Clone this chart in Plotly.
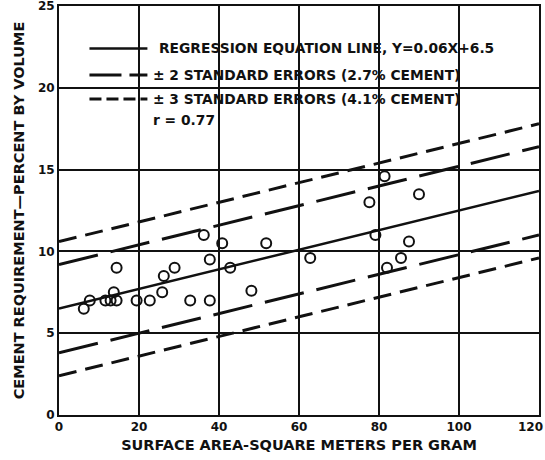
import plotly.graph_objects as go

# ---- data ----
surface_area = [6.2, 7.7, 11.6, 12.9, 14.4, 13.7, 14.4, 19.4, 22.7, 25.8, 26.2, 28.9, 32.8, 37.7,
                37.7, 36.2, 40.8, 42.8, 48.1, 51.8, 62.8, 79.1, 82.0, 85.5, 87.5, 77.6, 81.4, 90.0]
cement_req = [6.5, 7.0, 7.0, 7.0, 7.0, 7.5, 9.0, 7.0, 7.0, 7.5, 8.5, 9.0, 7.0, 7.0,
              9.5, 11.0, 10.5, 9.0, 7.6, 10.5, 9.6, 11.0, 9.0, 9.6, 10.6, 13.0, 14.6, 13.5]

line_x = [0, 120]
regression_y = [6.5, 13.7]
plus2_y = [9.2, 16.4]
minus2_y = [3.8, 11.0]
plus3_y = [10.6, 17.8]
minus3_y = [2.4, 9.6]

legend_labels = [
    "REGRESSION EQUATION LINE, Y=0.06X+6.5",
    "± 2 STANDARD ERRORS (2.7% CEMENT)",
    "± 3 STANDARD ERRORS (4.1% CEMENT)",
    "r = 0.77",
]
x_ticks = [0, 20, 40, 60, 80, 100, 120]
x_tick_labels = ["0", "20", "40", "60", "80", "100", "120"]
y_ticks = [0, 5, 10, 15, 20, 25]

# ---- layout geometry (pixels) ----
W, H = 545, 460
L, R, T, B = 58.5, 6, 5.5, 45
PW, PH = W - L - R, H - T - B


def px(xp):
    return (xp - L) / PW


def py(yp):
    return (H - B - yp) / PH


FONT = "DejaVu Sans"
BLACK = "#111111"

fig = go.Figure()

LONG = "40px,13px"
SHORT = "18px,9px"

fig.add_trace(go.Scatter(x=line_x, y=regression_y, mode="lines",
                         line=dict(color=BLACK, width=2.5), showlegend=False, hoverinfo="skip"))
for ys in (plus2_y, minus2_y):
    fig.add_trace(go.Scatter(x=line_x, y=ys, mode="lines",
                             line=dict(color=BLACK, width=3, dash=LONG), showlegend=False, hoverinfo="skip"))
for ys in (plus3_y, minus3_y):
    fig.add_trace(go.Scatter(x=line_x, y=ys, mode="lines",
                             line=dict(color=BLACK, width=3, dash=SHORT), showlegend=False, hoverinfo="skip"))

fig.add_trace(go.Scatter(x=surface_area, y=cement_req, mode="markers",
                         marker=dict(symbol="circle-open", size=10, color=BLACK, line=dict(width=2)),
                         showlegend=False))

shapes = []
# white legend panel hiding the grid
shapes.append(dict(type="rect", xref="paper", yref="paper", x0=px(72), x1=px(517), y0=py(138), y1=py(28),
                   fillcolor="white", line=dict(width=0), layer="between"))
# legend samples
rows_y = [48, 74.5, 98.5, 120]
sample_styles = [dict(width=2.5, dash="solid"), dict(width=3, dash="32px,8px"), dict(width=3, dash="12px,5px")]
for ry, st in zip(rows_y[:3], sample_styles):
    shapes.append(dict(type="line", xref="paper", yref="paper", x0=px(89), x1=px(147), y0=py(ry), y1=py(ry),
                       line=dict(color=BLACK, width=st["width"], dash=st["dash"]), layer="above"))

annotations = []
text_x = [158, 152, 152, 152]
for lab, ry, tx in zip(legend_labels, rows_y, text_x):
    annotations.append(dict(text=lab, xref="paper", yref="paper", x=px(tx), y=py(ry), xanchor="left",
                            yanchor="middle", showarrow=False, borderpad=0,
                            font=dict(family=FONT, size=13.8, color=BLACK, weight="bold")))

# last x tick label sits flush with the right edge (as in the reference)
annotations.append(dict(text=x_tick_labels[-1], xref="paper", yref="paper", x=px(544.5), y=py(427),
                        xanchor="right", yanchor="middle", showarrow=False, borderpad=0,
                        font=dict(family=FONT, size=12, color=BLACK, weight="bold")))

axis_common = dict(showline=True, linecolor=BLACK, linewidth=2, mirror=True, showgrid=True,
                   gridcolor=BLACK, gridwidth=1.5, zeroline=False, ticks="", automargin=False,
                   ticklabeloverflow="allow",
                   tickfont=dict(family=FONT, size=12, color=BLACK, weight="bold"))

fig.update_layout(
    width=W, height=H, margin=dict(l=L, r=R, t=T, b=B),
    paper_bgcolor="white", plot_bgcolor="white",
    shapes=shapes, annotations=annotations,
    xaxis=dict(range=[0, 120], tickvals=x_ticks, ticktext=x_tick_labels[:-1] + [""], **axis_common,
               title=dict(text="SURFACE AREA-SQUARE METERS PER GRAM", standoff=6,
                          font=dict(family=FONT, size=14.5, color=BLACK, weight="bold"))),
    yaxis=dict(range=[0, 25], tickvals=y_ticks, **axis_common,
               title=dict(text="CEMENT REQUIREMENT—PERCENT BY VOLUME", standoff=10,
                          font=dict(family=FONT, size=14.5, color=BLACK, weight="bold"))),
)

fig.write_html("out.html", config={"displayModeBar": False},
               post_script="document.body.style.margin='0px';")
